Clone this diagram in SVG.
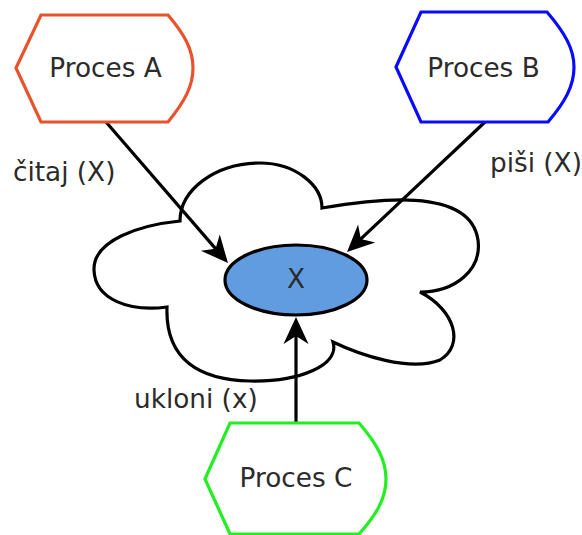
<svg xmlns="http://www.w3.org/2000/svg" width="582" height="535" viewBox="0 0 582 535">
  <style>
    .node { fill: #ffffff; stroke-width: 3.2; stroke-linejoin: miter; }
    .lbl { font-family: "DejaVu Sans", sans-serif; font-size: 26.3px; fill: #2b2b2b; }
    .mid { text-anchor: middle; }
    .edge { stroke: #000000; stroke-width: 3.2; fill: none; marker-end: url(#arr); }
  </style>
  <defs>
    <marker id="arr" markerUnits="userSpaceOnUse" markerWidth="32" markerHeight="32" viewBox="-30 -16 32 32" refX="-18" refY="0" orient="auto">
      <path d="M0,0 L-27,-12.5 L-19,0 L-27,12.5 Z" fill="#000000"/>
    </marker>
  </defs>

  <g id="cloud">
    <path d="M180,221 C180,190 215,163 260,163 C295,163 322,185 322,208 C370,200 470,185 478,240 C482,270 455,292 420,292 C455,310 465,345 440,360 C410,372 360,355 333,342 C340,365 300,382 250,381 C200,380 165,360 167,307 C130,312 95,300 94,270 C93,240 140,225 180,221 Z" fill="#ffffff" stroke="#000000" stroke-width="3.2" stroke-linejoin="miter"/>
  </g>

  <g id="connectors">
    <line class="edge" x1="106" y1="122" x2="216.2" y2="249.4"/>
    <line class="edge" x1="485" y1="122" x2="360.1" y2="239.7"/>
    <line class="edge" x1="296" y1="423" x2="296" y2="335"/>
    <text class="lbl" x="13" y="181">čitaj (X)</text>
    <text class="lbl" x="490" y="172">piši (X)</text>
    <text class="lbl" x="134" y="408">ukloni (x)</text>
  </g>

  <g id="nodeX">
    <ellipse cx="296" cy="280" rx="71" ry="35" fill="#629ce0" stroke="#000000" stroke-width="3.2"/>
    <text class="lbl mid" x="296" y="288">X</text>
  </g>

  <g id="procesA">
    <path class="node" stroke="#e8532b" d="M16,68 L41,15 L168,15 C185,35 193,50 193,68 C193,86 185,101 168,122 L41,122 Z"/>
    <text class="lbl mid" x="105.5" y="77">Proces A</text>
  </g>

  <g id="procesB">
    <path class="node" stroke="#0a0aff" d="M396,67 L421,12 L547,12 C565,33 574,49 574,67 C574,86 565,102 548,122 L421,122 Z"/>
    <text class="lbl mid" x="483.5" y="77">Proces B</text>
  </g>

  <g id="procesC">
    <path class="node" stroke="#22ee22" d="M205,479 L230,423 L359,423 C377,444 386,460 386,479 C386,498 377,514 359,534 L230,534 Z"/>
    <text class="lbl mid" x="296" y="487">Proces C</text>
  </g>
</svg>
